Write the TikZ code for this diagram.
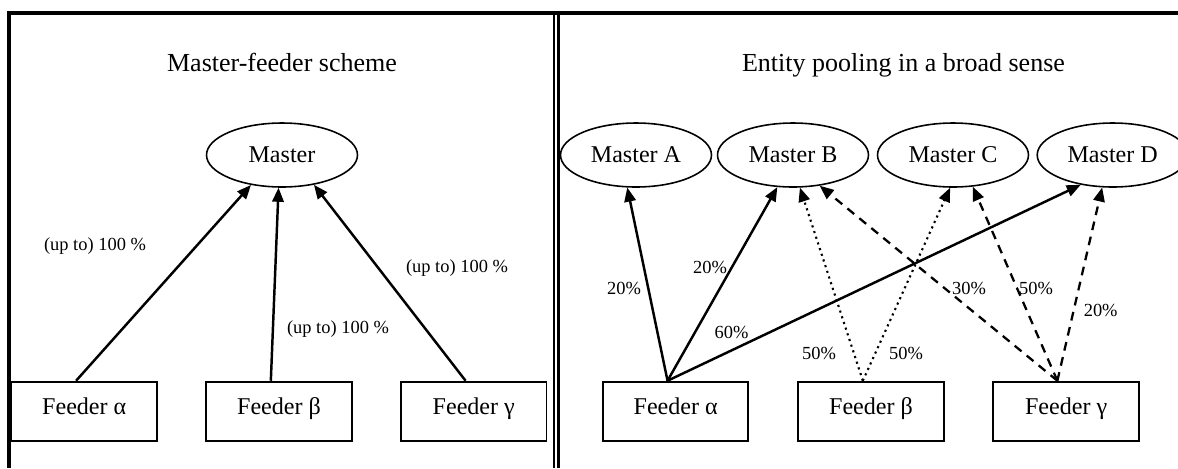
\documentclass[tikz,border=0pt]{standalone}
\usepackage{fontspec}
\setmainfont{Liberation Serif}
\usetikzlibrary{arrows.meta,shapes.geometric}

\begin{document}
\begin{tikzpicture}[x=0.02cm, y=-0.02cm,
    master/.style={draw, ellipse, line width=0.9pt, inner sep=0pt, minimum width=3.02cm, minimum height=1.28cm, font=\fontsize{13.7}{16}\selectfont},
    feeder/.style={draw, rectangle, line width=1.1pt, inner sep=0pt, minimum width=2.91cm, minimum height=1.18cm, text height=0.32cm, text depth=0.2cm, font=\fontsize{13.7}{16}\selectfont},
    share/.style={font=\fontsize{10.5}{12}\selectfont},
    heading/.style={anchor=base, font=\fontsize{14.8}{18}\selectfont},
    tip/.style={-{Triangle[length=8pt,width=6.5pt]}},
    solidflow/.style={tip, line width=1.4pt},
    dotflow/.style={tip, line width=1.2pt, dash pattern=on 1.2pt off 2.2pt},
    dashflow/.style={tip, line width=1.3pt, dash pattern=on 5pt off 3.8pt}]

    \useasboundingbox (0,0) rectangle (1178,468);
    \clip (0,0) rectangle (1178,468);

    % frame
    \draw[line width=2pt] (9.2,468) -- (9.2,12.8) -- (1178,12.8);
    \draw[line width=1.1pt] (554,12.8) -- (554,468);
    \draw[line width=1.7pt] (558.5,12.8) -- (558.5,468);

    % master-feeder scheme
    \node[heading] (lefttitle) at (282,71) {Master-feeder scheme};
    \node[master] (mM) at (282,155) {Master};
    \node[feeder] (fa) at (84.25,411.2) {Feeder α};
    \node[feeder] (fb) at (279,411.2) {Feeder β};
    \node[feeder] (fg) at (473.75,411.2) {Feeder γ};

    \draw[solidflow] (fa.105) -- (mM.224);
    \draw[solidflow] (fb.105) -- (mM.264);
    \draw[solidflow] (fg.105) -- (mM.317);

    \node[share] (la) at (95,246) {(up to) 100 \%};
    \node[share] (lb) at (338,329) {(up to) 100 \%};
    \node[share] (lg) at (457,268) {(up to) 100 \%};

    % entity pooling
    \node[heading] (righttitle) at (903.5,71) {Entity pooling in a broad sense};
    \node[master] (mA) at (636,155) {Master A};
    \node[master] (mB) at (793,155) {Master B};
    \node[master] (mC) at (953,155) {Master C};
    \node[master] (mD) at (1112.7,155) {Master D};
    \node[feeder] (ra) at (675.7,411.2) {Feeder α};
    \node[feeder] (rb) at (871,411.2) {Feeder β};
    \node[feeder] (rg) at (1066.1,411.2) {Feeder γ};

    \draw[solidflow] (ra.105) -- (mA.255);
    \draw[solidflow] (ra.105) -- (mB.244);
    \draw[solidflow] (ra.105) -- (mD.223);
    \draw[dotflow] (rb.105) -- (mB.282);
    \draw[dotflow] (rb.105) -- (mC.265);
    \draw[dashflow] (rg.106) -- (mB.311);
    \draw[dashflow] (rg.106) -- (mC.302);
    \draw[dashflow] (rg.106) -- (mD.252);

    \node[share] (sa) at (624,288) {20\%};
    \node[share] (sb) at (710,267) {20\%};
    \node[share] (sd) at (731.5,332) {60\%};
    \node[share] (tb) at (819,353) {50\%};
    \node[share] (tc) at (906,353) {50\%};
    \node[share] (ub) at (969,288) {30\%};
    \node[share] (uc) at (1036,288) {50\%};
    \node[share] (ud) at (1100.7,310) {20\%};

\end{tikzpicture}
\end{document}
